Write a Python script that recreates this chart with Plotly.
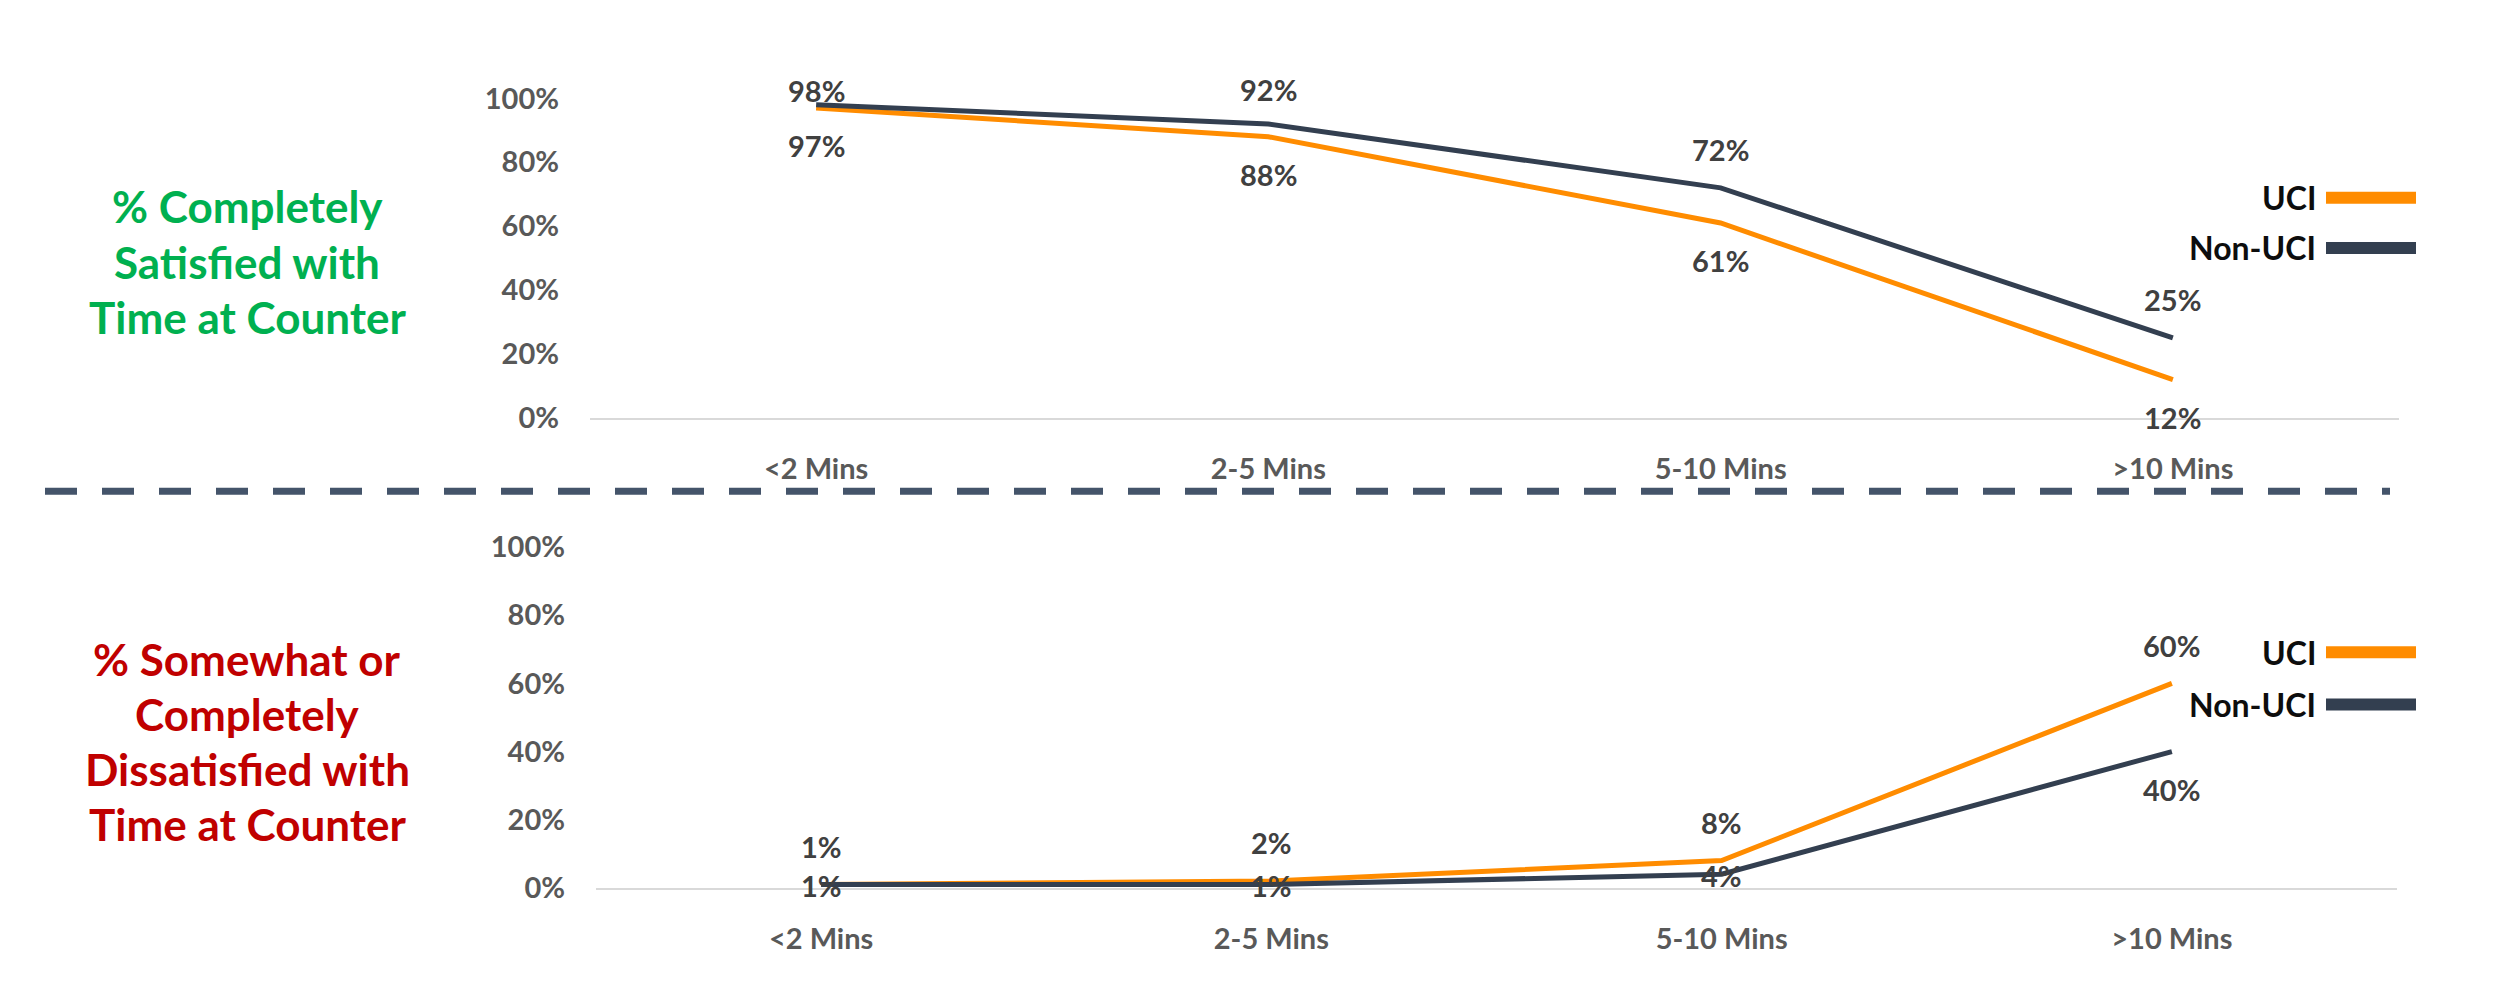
import plotly.graph_objects as go

# ---------------- data ----------------
categories = ["<2 Mins", "2-5 Mins", "5-10 Mins", ">10 Mins"]
sat_uci = [0.97, 0.88, 0.61, 0.12]
sat_non_uci = [0.98, 0.92, 0.72, 0.25]
dis_uci = [0.01, 0.02, 0.08, 0.60]
dis_non_uci = [0.01, 0.01, 0.04, 0.40]
series_names = ["UCI", "Non-UCI"]
y_ticks = [0, 0.2, 0.4, 0.6, 0.8, 1.0]
title_top = ["% Completely", "Satisfied with", "Time at Counter"]
title_bottom = ["% Somewhat or", "Completely", "Dissatisfied with", "Time at Counter"]

ORANGE = "#FF8C00"
NAVY = "#333F50"
FONT = "Lato"
W, H = 2500, 1001


def py(px):
    return 1 - px / H


def px_x(px):
    return px / W


fig = go.Figure()

# panel geometry (pixels)
top = dict(x0=582, x1=2391, y0=405, y1=74)
bot = dict(x0=588, x1=2389, y0=892, y1=539)

fig.update_layout(
    width=W, height=H,
    margin=dict(l=0, r=0, t=0, b=0),
    paper_bgcolor="white", plot_bgcolor="white",
    showlegend=False,
    font=dict(family=FONT, size=29, color="#595959", weight=700),
)

for ax_i, g in ((1, top), (2, bot)):
    xa = "xaxis" if ax_i == 1 else "xaxis2"
    ya = "yaxis" if ax_i == 1 else "yaxis2"
    fig.update_layout(**{
        xa: dict(domain=[px_x(g["x0"]), px_x(g["x1"])], anchor="y" if ax_i == 1 else "y2",
                 type="category", range=[-0.5, 3.5], showgrid=False, zeroline=False,
                 showline=True, linecolor="#D9D9D9", linewidth=2,
                 ticks="", ticklabelstandoff=24,
                 tickfont=dict(family=FONT, size=29, color="#595959", weight=700)),
        ya: dict(domain=[py(g["y0"]), py(g["y1"])], anchor="x" if ax_i == 1 else "x2",
                 range=[0, 1], tickvals=y_ticks, tickformat=".0%", showgrid=False,
                 zeroline=False, showline=False, ticks="", ticklabelstandoff=30,
                 tickfont=dict(family=FONT, size=29, color="#595959", weight=700)),
    })

panels = [
    ("x", "y", sat_uci, sat_non_uci, top, "below", "above"),
    ("x2", "y2", dis_uci, dis_non_uci, bot, "above", "below"),
]

for xr, yr, uci, non, g, uci_pos, non_pos in panels:
    for vals, color, name in ((uci, ORANGE, series_names[0]), (non, NAVY, series_names[1])):
        fig.add_trace(go.Scatter(x=categories, y=vals, mode="lines", name=name,
                                 line=dict(color=color, width=5), xaxis=xr, yaxis=yr,
                                 cliponaxis=False, hoverinfo="skip"))
    scale = g["y0"] - g["y1"]  # px per unit
    for vals, pos in ((uci, uci_pos), (non, non_pos)):
        for c, v in zip(categories, vals):
            pt = g["y0"] - v * scale  # pixel y of point
            if pos == "above":
                lab = pt - 38
                lab = max(lab, g["y1"] - 8)
            else:
                lab = pt + 38
                if lab > g["y0"] + 10:
                    lab = pt + 1
            fig.add_annotation(x=c, y=v, xref=xr, yref=yr, text=f"{round(v*100)}%",
                               showarrow=False, yshift=pt - lab,
                               font=dict(family=FONT, size=29, color="#404040", weight=700))

# left titles
for i, t in enumerate(title_top):
    fig.add_annotation(x=px_x(239), y=py(186 + 57 * i), xref="paper", yref="paper", text=t,
                       showarrow=False, xanchor="center", yanchor="middle",
                       font=dict(family=FONT, size=44, color="#00B050", weight=700))
for i, t in enumerate(title_bottom):
    fig.add_annotation(x=px_x(239), y=py(655 + 57 * i), xref="paper", yref="paper", text=t,
                       showarrow=False, xanchor="center", yanchor="middle",
                       font=dict(family=FONT, size=44, color="#C00000", weight=700))

# legends (text left of swatch)
for ys in ((177, 229), (648, 702)):
    for yy, name, color in zip(ys, series_names, (ORANGE, NAVY)):
        fig.add_annotation(x=px_x(2310), y=py(yy), xref="paper", yref="paper", text=name,
                           showarrow=False, xanchor="right", yanchor="middle",
                           font=dict(family=FONT, size=32, color="#0D0D0D", weight=700))
        fig.add_shape(type="line", xref="paper", yref="paper", x0=px_x(2318), x1=px_x(2408),
                      y0=py(yy), y1=py(yy), line=dict(color=color, width=12))

# dashed divider
fig.add_shape(type="line", xref="paper", yref="paper", x0=px_x(37), x1=px_x(2382),
              y0=py(481), y1=py(481), line=dict(color="#44546A", width=7, dash="32px,25px"))

fig.write_html("out.html")
